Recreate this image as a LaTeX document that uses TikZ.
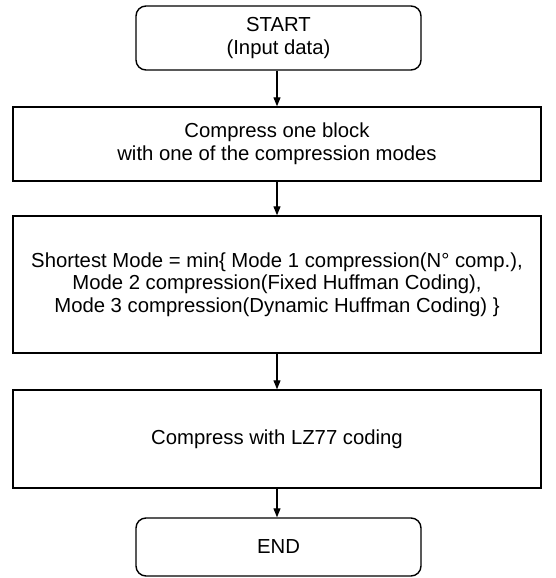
\documentclass[tikz,border=0pt]{standalone}
\usepackage{fontspec}
\setmainfont{Liberation Sans}
\usetikzlibrary{arrows.meta}
\begin{document}
\begin{tikzpicture}[x=1pt,y=-1pt,
  every node/.style={font=\fontsize{20.3}{22.5}\selectfont, align=center, inner sep=0pt},
  proc/.style={draw, line width=1.4pt, minimum width=528pt},
  term/.style={draw, line width=1.4pt, rounded corners=10pt, minimum width=285pt},
  flow/.style={-{Triangle[length=9pt,width=7pt]}, line width=1.2pt}]
\useasboundingbox (0,0) rectangle (555,578);
% terminals and process steps, top to bottom
\node[term, minimum height=64pt] (start) at (278.5,38) {START\\(Input data)};
\node[proc, minimum height=74pt] (compress) at (277,144) {Compress one block\\with one of the compression modes};
\node[proc, minimum height=137pt] (shortest) at (277,284.5) {Shortest Mode = min\{ Mode 1 compression(N° comp.),\\Mode 2 compression(Fixed Huffman Coding),\\Mode 3 compression(Dynamic Huffman Coding) \}};
\node[proc, minimum height=98pt] (lz) at (277,439) {Compress with LZ77 coding};
\node[term, minimum height=58pt] (end) at (278.5,547) {END};
% connectors, vertical at the process column
\draw[flow] (compress.north |- start.south) -- (compress.north);
\draw[flow] (compress) -- (shortest);
\draw[flow] (shortest) -- (lz);
\draw[flow] (lz.south) -- (lz.south |- end.north);
\end{tikzpicture}
\end{document}
